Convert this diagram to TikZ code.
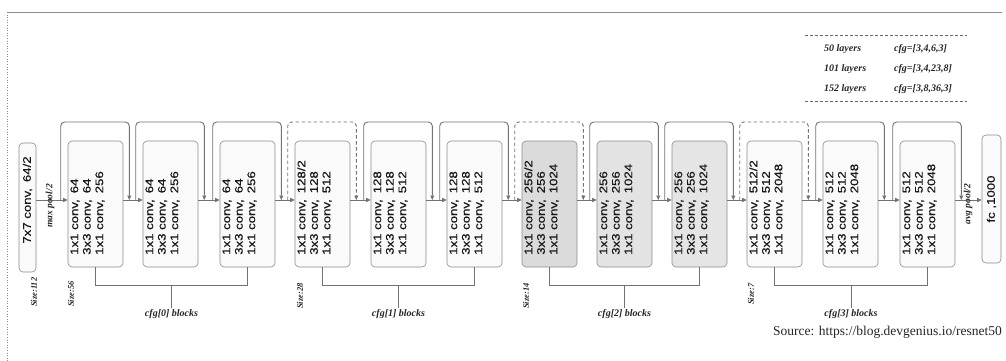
\documentclass[tikz,border=0pt]{standalone}
\usepackage{fontspec}
\setmainfont{Liberation Serif}
\setsansfont{Liberation Sans}
\newfontfamily\blkfont[FakeStretch=1.2,FakeBold=0.6]{Liberation Sans}
\usetikzlibrary{arrows.meta,calc}
\newcommand\cvx{conv,\hspace{0.55em}}
\begin{document}
\begin{tikzpicture}[x=1pt,y=-1pt,
  blk/.style={draw=black!45, rounded corners=4pt, fill=black!2, line width=0.6pt, minimum width=55pt, minimum height=126pt, inner sep=0pt},
  btxt/.style={rotate=90, align=left, anchor=west, font=\blkfont\fontsize{11}{12.5}\selectfont, inner sep=0pt, text=black!90},
  stxt/.style={rotate=90, font=\blkfont\fontsize{11}{12.5}\selectfont, inner sep=0pt, text=black!90},
  conn/.style={draw=black!55, line width=0.9pt},
  arr/.style={conn, -{Triangle[length=4.5pt,width=4pt]}},
  skip/.style={arr, rounded corners=4pt},
  skipd/.style={skip, dash pattern=on 3.5pt off 2.5pt},
  lbl/.style={font=\bfseries\itshape\fontsize{10}{12}\selectfont, text=black!85, inner sep=1pt},
  pool/.style={lbl, font=\bfseries\itshape\fontsize{9.5}{11}\selectfont, rotate=90},
  sz/.style={lbl, font=\bfseries\itshape\fontsize{8.5}{10}\selectfont, rotate=90, anchor=west},
  tbl/.style={lbl, font=\bfseries\itshape\fontsize{10}{12}\selectfont, anchor=west},
]
\useasboundingbox (0,0) rectangle (1006,361);
\fill[white] (0,0) rectangle (1006,361);
% frame
\draw[black!45, line width=0.6pt] (1002,12) -- (7,12);
\draw[black!45, line width=0.6pt, dotted] (7,12) -- (7,361);

% table
\draw[black!60, line width=0.5pt, dash pattern=on 3pt off 2pt] (805,35) -- (967,35);
\draw[black!60, line width=0.5pt, dash pattern=on 3pt off 2pt] (805,101) -- (967,101);
\node[tbl] (l50) at (823,49) {50 layers};
\node[tbl] (g50) at (893,49) {cfg=[3,4,6,3]};
\node[tbl] (l101) at (823,69) {101 layers};
\node[tbl] (g101) at (893,69) {cfg=[3,4,23,8]};
\node[tbl] (l152) at (823,89) {152 layers};
\node[tbl] (g152) at (893,89) {cfg=[3,8,36,3]};

% first conv
\node[blk, minimum width=17pt, minimum height=129pt] (b0) at (27.5,207.5) {};
\node[stxt] (t0) at (27.5,200) {7x7 \cvx 64/2};

% blocks
\node[blk] (b1) at (95.5,204) {};
\node[blk] (b2) at (170.5,204) {};
\node[blk] (b3) at (247.5,204) {};
\node[blk] (b4) at (322.5,204) {};
\node[blk] (b5) at (398.5,204) {};
\node[blk] (b6) at (474.5,204) {};
\node[blk, fill=black!14] (b7) at (549.5,204) {};
\node[blk, fill=black!11] (b8) at (624.5,204) {};
\node[blk, fill=black!10] (b9) at (699.5,204) {};
\node[blk] (b10) at (774.5,204) {};
\node[blk] (b11) at (850.5,204) {};
\node[blk] (b12) at (927.5,204) {};

\node[btxt] (t1) at (87.5,255) {1x1 \cvx 64\\3x3 \cvx 64\\1x1 \cvx 256};
\node[btxt] (t2) at (162.5,255) {1x1 \cvx 64\\3x3 \cvx 64\\1x1 \cvx 256};
\node[btxt] (t3) at (239.5,255) {1x1 \cvx 64\\3x3 \cvx 64\\1x1 \cvx 256};
\node[btxt] (t4) at (314.5,255) {1x1 \cvx 128/2\\3x3 \cvx 128\\1x1 \cvx 512};
\node[btxt] (t5) at (390.5,255) {1x1 \cvx 128\\3x3 \cvx 128\\1x1 \cvx 512};
\node[btxt] (t6) at (466.5,255) {1x1 \cvx 128\\3x3 \cvx 128\\1x1 \cvx 512};
\node[btxt] (t7) at (541.5,255) {1x1 \cvx 256/2\\3x3 \cvx 256\\1x1 \cvx 1024};
\node[btxt] (t8) at (616.5,255) {1x1 \cvx 256\\3x3 \cvx 256\\1x1 \cvx 1024};
\node[btxt] (t9) at (691.5,255) {1x1 \cvx 256\\3x3 \cvx 256\\1x1 \cvx 1024};
\node[btxt] (t10) at (766.5,255) {1x1 \cvx 512/2\\3x3 \cvx 512\\1x1 \cvx 2048};
\node[btxt] (t11) at (842.5,255) {1x1 \cvx 512\\3x3 \cvx 512\\1x1 \cvx 2048};
\node[btxt] (t12) at (919.5,255) {1x1 \cvx 512\\3x3 \cvx 512\\1x1 \cvx 2048};

% fc
\node[blk, minimum width=19pt, minimum height=128pt] (fc) at (991.5,199) {};
\node[stxt] (tfc) at (991.5,199) {fc ,1000};

% arrow points
\foreach \b in {b1,b2,b3,b4,b5,b6,b7,b8,b9,b10,b11,b12}{
  \coordinate (\b-in) at ([yshift=4pt]\b.west);
  \coordinate (\b-out) at ([yshift=4pt]\b.east);
}

% main arrows
\draw[arr] (b0.east |- b1-in) -- (b1-in);
\foreach \a/\c in {b1/b2,b2/b3,b3/b4,b4/b5,b5/b6,b6/b7,b7/b8,b8/b9,b9/b10,b10/b11,b11/b12}{
  \draw[arr] (\a-out) -- (\c-in);
}
\draw[arr] (b12-out) -- (b12-out -| fc.west);

% skip connections
\foreach \b/\s in {b1/skip,b2/skip,b3/skip,b4/skipd,b5/skip,b6/skip,b7/skipd,b8/skip,b9/skip,b10/skipd,b11/skip,b12/skip}{
  \draw[\s] ([xshift=-7pt]\b-in) -- ++(0,-78) -| ([xshift=6pt]\b-out);
}

% pool labels
\node[pool] (mp) at (50,206) {max pool/2};
\node[pool] (ap) at (968,204) {avg pool/2};

% size labels
\node[sz] (s112) at (34,308) {Size:112};
\node[sz] (s56) at (71,308) {Size:56};
\node[sz] (s28) at (300,310) {Size:28};
\node[sz] (s14) at (526,310) {Size:14};
\node[sz] (s7) at (751,306) {Size:7};

% cfg brackets
\foreach \p/\q/\k/\n in {b1/b3/k0/0,b4/b6/k1/1,b7/b9/k2/2,b10/b12/k3/3}{
  \draw[conn] (\p.south) -- ++(0,18) -| (\q.south);
  \coordinate (\k) at ($(\p.south)!0.5!(\q.south)+(0,18)$);
  \node[lbl, anchor=north] (c\n) at ([yshift=-23pt]\k) {cfg[\n] blocks};
  \draw[conn] (\k) -- (c\n.north);
}

% source
\node[anchor=east, font=\fontsize{13.5}{15}\selectfont, text=black!85, inner sep=0pt] (src) at (1002,332) {Source: https://blog.devgenius.io/resnet50};
\end{tikzpicture}
\end{document}
